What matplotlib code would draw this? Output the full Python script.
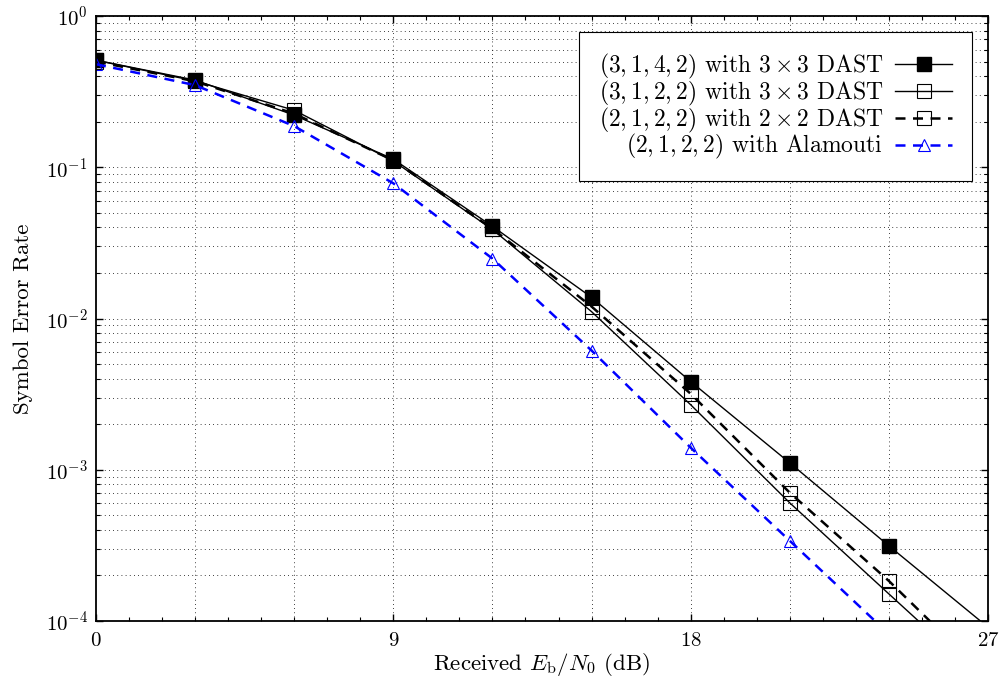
import numpy as np
import matplotlib
matplotlib.use("Agg")
import matplotlib.pyplot as plt
from matplotlib.ticker import MultipleLocator, FixedLocator, LogLocator, NullFormatter

# SNR points (dB); the last point lies below the plot and only sets the line direction
snr = [0, 3, 6, 9, 12, 15, 18, 21, 24, 27]

ser_3142_dast3 = [0.51, 0.377, 0.221, 0.113, 0.0407, 0.0138, 0.00383, 0.00111, 3.14e-4, 9.1e-5]
ser_3122_dast3 = [0.51, 0.372, 0.238, 0.110, 0.0388, 0.0111, 0.00269, 6.04e-4, 1.51e-4, 3.8e-5]
ser_2122_dast2 = [0.50, 0.370, 0.226, 0.111, 0.0392, 0.0120, 0.00318, 7.05e-4, 1.84e-4, 4.2e-5]
ser_2122_alam = [0.48, 0.349, 0.187, 0.0783, 0.0249, 0.00614, 0.00140, 3.39e-4, 8.2e-5, 2.0e-5]

labels = [
    r'$(3,1,4,2)$ with $3\times 3$ DAST',
    r'$(3,1,2,2)$ with $3\times 3$ DAST',
    r'$(2,1,2,2)$ with $2\times 2$ DAST',
    r'$(2,1,2,2)$ with Alamouti',
]

plt.rcParams['font.family'] = ['cmr10', 'DejaVu Serif']
plt.rcParams['mathtext.fontset'] = 'cm'
plt.rcParams['axes.formatter.use_mathtext'] = True
plt.rcParams['axes.unicode_minus'] = False

fig = plt.figure(figsize=(10.04, 6.84), dpi=100)
ax = fig.add_axes([96 / 1004, 1 - 621 / 684, (988 - 96) / 1004, (621 - 16) / 684])

marks = slice(0, 9)
ax.plot(snr, ser_3142_dast3, color='black', lw=1.0, marker='s', ms=10,
        mfc='black', mec='black', markevery=marks, label=labels[0])
ax.plot(snr, ser_3122_dast3, color='black', lw=1.0, marker='s', ms=10,
        mfc='none', mec='black', mew=0.8, markevery=marks, label=labels[1])
ax.plot(snr, ser_2122_dast2, color='black', lw=1.8, ls=(0, (4, 3)), marker='s', ms=10,
        mfc='none', mec='black', mew=0.8, markevery=marks, label=labels[2])
ax.plot(snr, ser_2122_alam, color='#0000ff', lw=1.8, ls=(0, (4, 3)), marker='^', ms=9,
        mfc='none', mec='#0000ff', mew=0.8, markevery=marks, label=labels[3])

ax.set_yscale('log')
ax.set_xlim(0, 27)
ax.set_ylim(1e-4, 1)

ax.xaxis.set_major_locator(FixedLocator([0, 9, 18, 27]))
ax.xaxis.set_minor_locator(MultipleLocator(1))
ax.yaxis.set_major_locator(LogLocator(base=10))
ax.yaxis.set_minor_locator(LogLocator(base=10, subs=np.arange(2, 10)))
ax.yaxis.set_minor_formatter(NullFormatter())

ax.tick_params(which='both', direction='in', top=True, right=True, labelsize=15)
ax.tick_params(which='major', length=5, width=1)
ax.tick_params(which='minor', length=3, width=0.8)
ax.tick_params(axis='x', pad=8)
ax.tick_params(axis='y', pad=6)

grid_style = dict(color='black', lw=0.6, ls=(0, (1, 4)))
ax.grid(True, axis='y', which='both', **grid_style)
for gx in range(3, 27, 3):
    ax.axvline(gx, zorder=0.5, **grid_style)

for sp in ax.spines.values():
    sp.set_linewidth(1.3)

ax.set_xlabel(r'Received $E_\mathrm{b}/N_0$ (dB)', fontsize=16.5, labelpad=1)
ax.set_ylabel('Symbol Error Rate', fontsize=16.5, labelpad=9)

leg = ax.legend(loc='upper right', markerfirst=False, fancybox=False, framealpha=1,
                edgecolor='black', fontsize=17, handlelength=2.4, handletextpad=0.5,
                labelspacing=-0.1, borderaxespad=0.68, borderpad=0.85)
leg.get_frame().set_linewidth(0.8)

fig.savefig('out.png', dpi=100)
